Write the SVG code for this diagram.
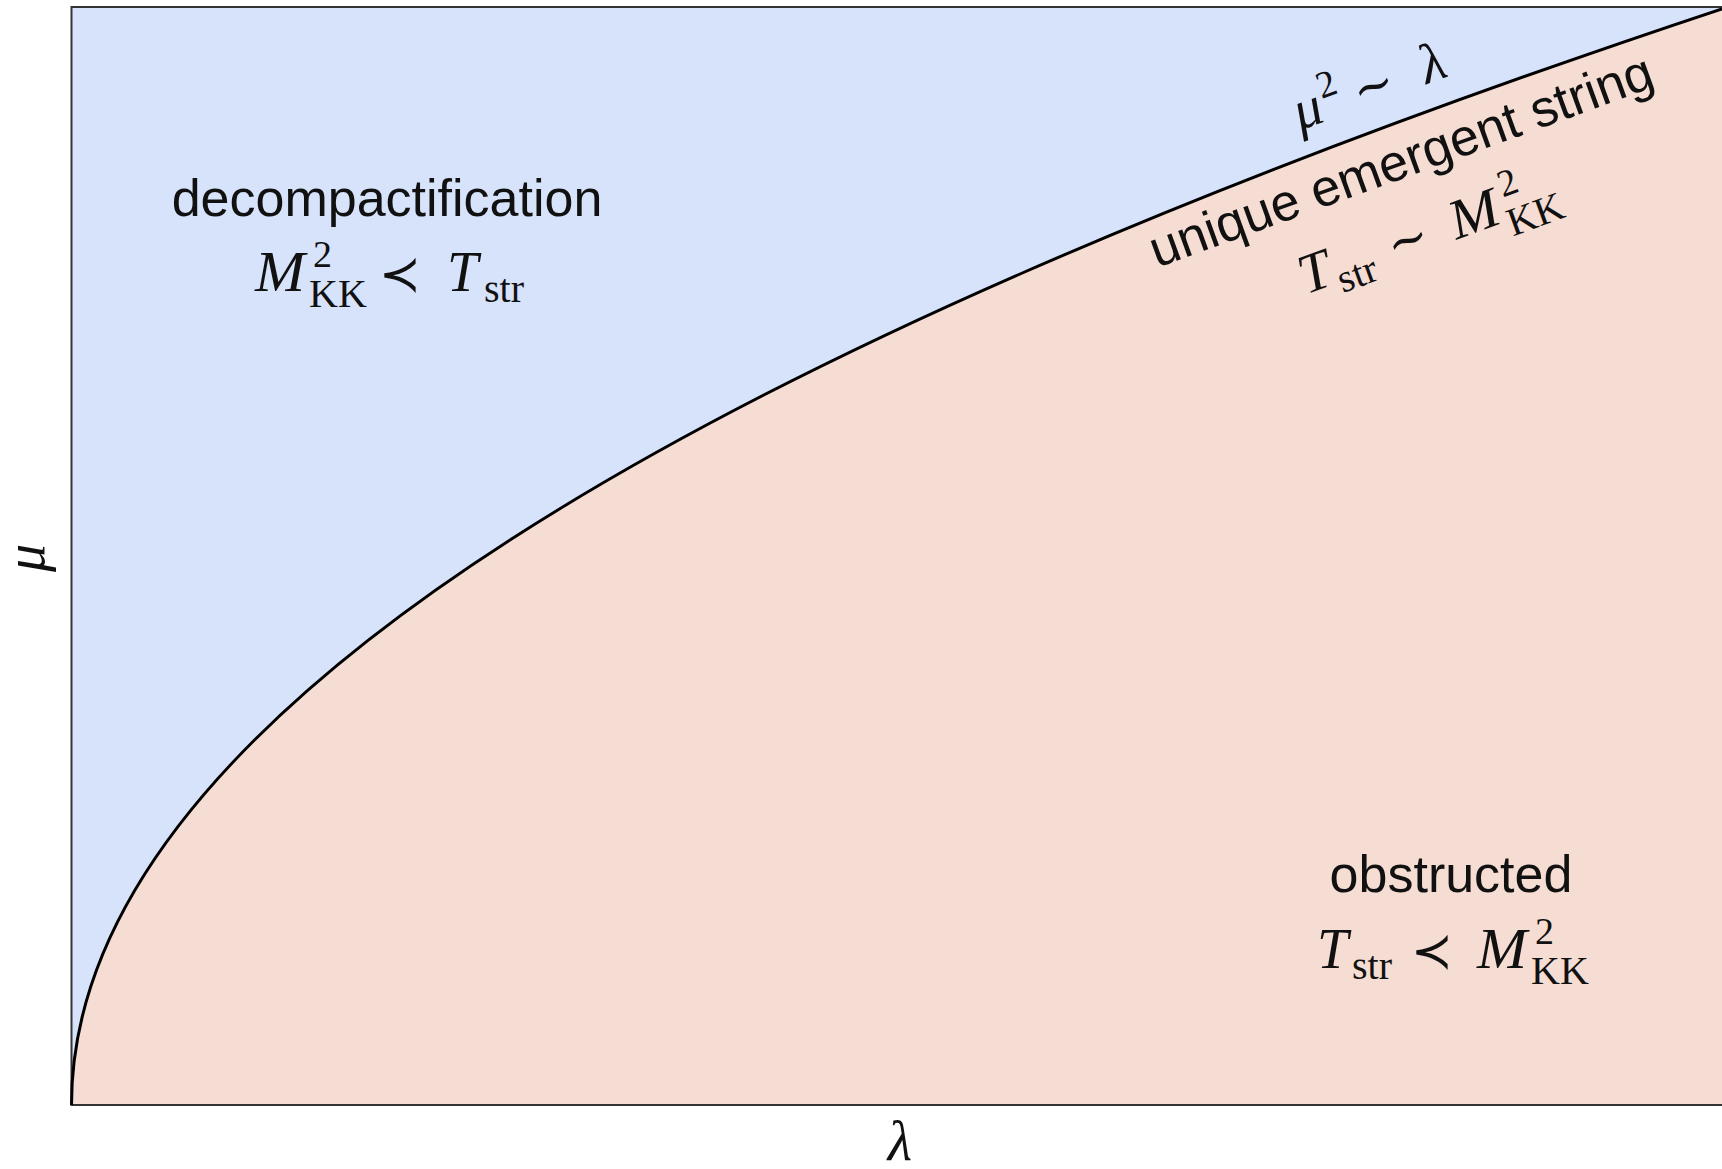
<svg xmlns="http://www.w3.org/2000/svg" width="1722" height="1169" viewBox="0 0 1722 1169">
<style>
.sans{font-family:"Liberation Sans",Arial,sans-serif;font-size:52px;fill:#111}
.mi{font-family:"Liberation Serif","Times New Roman",serif;font-style:italic;font-size:56px;fill:#111}
.rm{font-family:"Liberation Serif","Times New Roman",serif;font-size:40px;fill:#111}
.sup{font-family:"Liberation Serif","Times New Roman",serif;font-size:38px;fill:#111}
.op{font-family:"DejaVu Serif",serif;font-size:50px;fill:#111}
.frame{fill:none;stroke:#333;stroke-width:2}
</style>
<rect width="1722" height="1169" fill="#ffffff"/>
<g id="region-decompactification">
<path d="M71.5,7 L1722,7 L1722,8.8 Q71.5,556.9 71.5,1105 Z" fill="#d7e3fb"/>
</g>
<g id="region-obstructed">
<path d="M71.5,1105 Q71.5,556.9 1722,8.8 L1722,1105 Z" fill="#f6ddd3"/>
</g>
<g id="frame">
<path class="frame" d="M1722,7 L71.5,7 L71.5,1105 L1722,1105"/>
</g>
<g id="connectors">
<path d="M71.5,1105 Q71.5,556.9 1722,8.8" fill="none" stroke="#000" stroke-width="3"/>
</g>
<g id="label-decompactification">
<text class="sans" x="387" y="216" text-anchor="middle">decompactification</text>
<text class="mi" x="255" y="291" textLength="50" lengthAdjust="spacingAndGlyphs">M</text>
<text class="sup" x="313" y="267">2</text>
<text class="rm" x="309" y="307">KK</text>
<text class="op" x="379" y="291">≺</text>
<text class="mi" x="447" y="291">T</text>
<text class="rm" x="484" y="302">str</text>
</g>
<g id="label-obstructed">
<text class="sans" x="1451" y="892" text-anchor="middle">obstructed</text>
<text class="mi" x="1317" y="968">T</text>
<text class="rm" x="1352" y="979">str</text>
<text class="op" x="1411" y="968">≺</text>
<text class="mi" x="1477" y="968" textLength="50" lengthAdjust="spacingAndGlyphs">M</text>
<text class="sup" x="1535" y="944">2</text>
<text class="rm" x="1531" y="984">KK</text>
</g>
<g id="label-emergent-string" transform="translate(1407,177) rotate(-20)">
<text class="sans" x="0" y="0" text-anchor="middle">unique emergent string</text>
<text class="mi" x="-135" y="76">T</text>
<text class="rm" x="-100" y="87">str</text>
<text class="op" x="-42" y="76">∼</text>
<text class="mi" x="25" y="76" textLength="50" lengthAdjust="spacingAndGlyphs">M</text>
<text class="sup" x="83" y="52">2</text>
<text class="rm" x="79" y="92">KK</text>
</g>
<g id="label-curve" transform="translate(1378,102) rotate(-20)">
<text class="mi" x="-83" y="0">μ</text>
<text class="sup" x="-52" y="-22">2</text>
<text class="op" x="-20" y="0">∼</text>
<text class="mi" x="52" y="0">λ</text>
</g>
<g id="axis-labels">
<text class="mi" transform="translate(44,558) rotate(-90)" text-anchor="middle">μ</text>
<text class="mi" x="900" y="1160" text-anchor="middle">λ</text>
</g>
</svg>
